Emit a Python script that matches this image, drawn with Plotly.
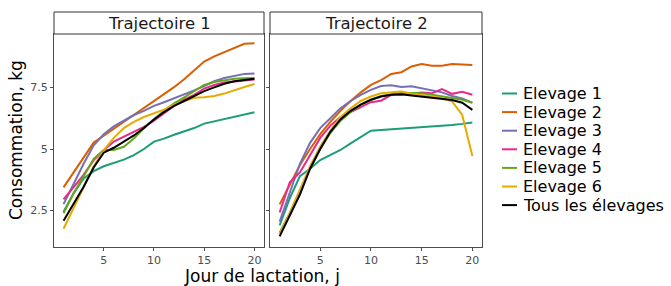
import plotly.graph_objects as go

days = list(range(1, 21))
series_names = ["Elevage 1", "Elevage 2", "Elevage 3", "Elevage 4", "Elevage 5", "Elevage 6", "Tous les élevages"]
series_colors = ["#1B9E77", "#D95F02", "#7570B3", "#E7298A", "#66A61E", "#E6AB02", "#000000"]
panel_titles = ["Trajectoire 1", "Trajectoire 2"]
y_ticks = [2.5, 5, 7.5]
y_ticklabels = ["2.5", "5", "7.5"]
x_ticks = [5, 10, 15, 20]

t1_e1 = [2.45, 3.2, 3.8, 4.1, 4.3, 4.42, 4.57, 4.75, 5.0, 5.3, 5.42, 5.58, 5.7, 5.85, 6.03, 6.12, 6.2, 6.3, 6.4, 6.49]
t1_e2 = [3.44, 4.06, 4.67, 5.26, 5.54, 5.82, 6.1, 6.38, 6.65, 6.92, 7.22, 7.51, 7.83, 8.21, 8.55, 8.76, 8.92, 9.1, 9.27, 9.29]
t1_e3 = [2.76, 3.6, 4.4, 5.15, 5.6, 5.92, 6.15, 6.38, 6.55, 6.75, 6.9, 7.05, 7.2, 7.38, 7.55, 7.75, 7.88, 7.97, 8.05, 8.07]
t1_e4 = [2.95, 3.45, 3.95, 4.55, 4.95, 5.3, 5.5, 5.7, 5.9, 6.15, 6.45, 6.75, 7.0, 7.2, 7.45, 7.6, 7.7, 7.75, 7.78, 7.82]
t1_e5 = [2.39, 3.2, 3.89, 4.6, 4.96, 4.96, 5.09, 5.43, 5.84, 6.22, 6.55, 6.85, 7.1, 7.35, 7.6, 7.72, 7.8, 7.85, 7.87, 7.88]
t1_e6 = [1.76, 2.6, 3.5, 4.3, 4.95, 5.45, 5.85, 6.1, 6.3, 6.45, 6.6, 6.8, 6.95, 7.08, 7.1, 7.15, 7.25, 7.4, 7.52, 7.64]
t1_all = [2.09, 2.8, 3.47, 4.25, 4.85, 5.05, 5.3, 5.55, 5.85, 6.2, 6.5, 6.75, 6.95, 7.15, 7.35, 7.5, 7.65, 7.75, 7.8, 7.85]

t2_e1 = [1.9, 3.0, 3.9, 4.2, 4.55, 4.75, 4.96, 5.23, 5.5, 5.74, 5.77, 5.8, 5.83, 5.84, 5.88, 5.9, 5.95, 5.97, 6.02, 6.08]
t2_e2 = [2.75, 3.55, 4.35, 5.0, 5.6, 6.1, 6.55, 6.95, 7.3, 7.6, 7.8, 8.05, 8.12, 8.35, 8.45, 8.38, 8.38, 8.45, 8.43, 8.41]
t2_e3 = [2.05, 3.25, 4.4, 5.25, 5.85, 6.25, 6.65, 6.95, 7.2, 7.4, 7.56, 7.59, 7.52, 7.55, 7.46, 7.38, 7.3, 7.15, 7.05, 6.88]
t2_e4 = [2.42, 3.65, 4.05, 4.75, 5.45, 5.95, 6.3, 6.5, 6.7, 6.9, 6.96, 7.2, 7.2, 7.26, 7.29, 7.26, 7.43, 7.24, 7.32, 7.2]
t2_e5 = [1.6, 2.4, 3.3, 4.2, 5.0, 5.65, 6.15, 6.5, 6.8, 7.0, 7.15, 7.22, 7.28, 7.27, 7.26, 7.2, 7.15, 7.07, 7.0, 6.88]
t2_e6 = [1.55, 2.4, 3.35, 4.3, 5.1, 5.75, 6.3, 6.65, 6.95, 7.13, 7.26, 7.29, 7.33, 7.24, 7.2, 7.13, 7.07, 6.93, 6.38, 4.72]
t2_all = [1.45, 2.3, 3.15, 4.2, 5.0, 5.7, 6.2, 6.55, 6.8, 7.0, 7.13, 7.2, 7.22, 7.17, 7.13, 7.07, 7.03, 6.99, 6.88, 6.59]

panels = [
    [t1_e1, t1_e2, t1_e3, t1_e4, t1_e5, t1_e6, t1_all],
    [t2_e1, t2_e2, t2_e3, t2_e4, t2_e5, t2_e6, t2_all],
]

W, H = 671, 286
FONT = "DejaVu Sans"

def px(x):
    return x / W

def py(y):
    return 1 - y / H

fig = go.Figure()
xaxes = ["x", "x2"]
yaxes = ["y", "y2"]
for p, series in enumerate(panels):
    for name, color, vals in zip(series_names, series_colors, series):
        fig.add_trace(go.Scatter(
            x=days, y=vals, mode="lines", name=name,
            line=dict(color=color, width=2),
            xaxis=xaxes[p], yaxis=yaxes[p], showlegend=False,
        ))

panel_x = [(54, 264), (270, 482)]
plot_top, plot_bot = 34, 247
strip_top = 12

axis_common = dict(
    showgrid=False, zeroline=False, showline=True, mirror=True,
    linecolor="#4d4d4d", linewidth=1, ticks="outside", ticklen=3,
    tickcolor="#4d4d4d", tickfont=dict(family=FONT, size=11, color="#4d4d4d"),
)

fig.update_layout(
    width=W, height=H, margin=dict(l=0, r=0, t=0, b=0),
    plot_bgcolor="white", paper_bgcolor="white",
    showlegend=False,
    xaxis=dict(domain=[px(panel_x[0][0]), px(panel_x[0][1])], range=[0.05, 20.95],
               tickvals=x_ticks, anchor="y", **axis_common),
    xaxis2=dict(domain=[px(panel_x[1][0]), px(panel_x[1][1])], range=[0.05, 20.95],
                tickvals=x_ticks, anchor="y2", **axis_common),
    yaxis=dict(domain=[py(plot_bot), py(plot_top)], range=[1.02, 9.67],
               tickvals=y_ticks, ticktext=y_ticklabels, anchor="x", **axis_common),
    yaxis2=dict(domain=[py(plot_bot), py(plot_top)], range=[1.02, 9.67],
                tickvals=y_ticks, showticklabels=False, anchor="x2", matches="y", **axis_common),
)

shapes = []
annotations = []
for (x0, x1), title in zip(panel_x, panel_titles):
    shapes.append(dict(type="rect", xref="paper", yref="paper",
                       x0=px(x0), x1=px(x1), y0=py(plot_top), y1=py(strip_top),
                       fillcolor="white", line=dict(color="#333333", width=1)))
    annotations.append(dict(xref="paper", yref="paper", x=px((x0 + x1) / 2), y=py(23.5),
                            text=title, showarrow=False, xanchor="center", yanchor="middle",
                            font=dict(family=FONT, size=16.5, color="#1a1a1a")))

# axis titles
annotations.append(dict(xref="paper", yref="paper", x=px(262), y=py(276),
                        text="Jour de lactation, j", showarrow=False,
                        xanchor="center", yanchor="middle",
                        font=dict(family=FONT, size=17, color="black")))
annotations.append(dict(xref="paper", yref="paper", x=px(15.5), y=py(140.5),
                        text="Consommation, kg", showarrow=False, textangle=-90,
                        xanchor="center", yanchor="middle",
                        font=dict(family=FONT, size=17, color="black")))

# legend
leg_y0, leg_dy = 93.5, 18.6
for i, (name, color) in enumerate(zip(series_names, series_colors)):
    yc = leg_y0 + i * leg_dy
    shapes.append(dict(type="line", xref="paper", yref="paper",
                       x0=px(502), x1=px(517), y0=py(yc), y1=py(yc),
                       line=dict(color=color, width=2)))
    annotations.append(dict(xref="paper", yref="paper", x=px(521), y=py(yc),
                            text=name, showarrow=False, xanchor="left", yanchor="middle",
                            font=dict(family=FONT, size=16, color="black")))

fig.update_layout(shapes=shapes, annotations=annotations)
fig.write_html("out.html", config={"displayModeBar": False},
               post_script="document.body.style.margin='0';document.body.style.overflow='hidden';")
